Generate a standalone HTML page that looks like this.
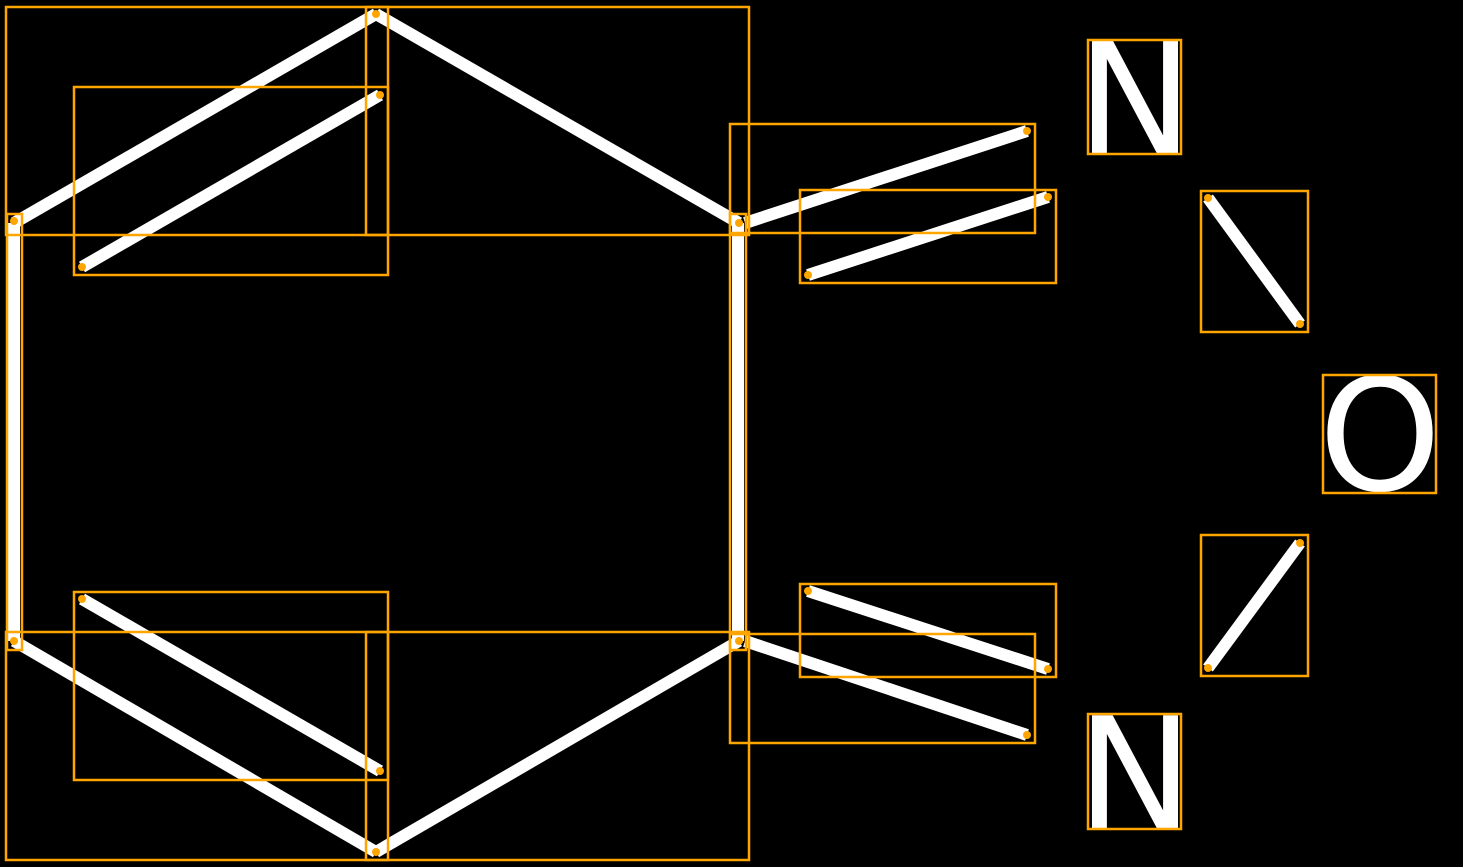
<!DOCTYPE html>
<html><head><style>html,body{margin:0;padding:0;background:#000;width:1463px;height:867px;overflow:hidden}</style></head>
<body>
<svg width="1463" height="867" xmlns="http://www.w3.org/2000/svg">
<rect width="1463" height="867" fill="#000"/>
<g stroke="#fff" stroke-width="12" stroke-linecap="butt">
<line x1="14" y1="223" x2="376" y2="14"/>
<line x1="376" y1="14" x2="739" y2="223"/>
<line x1="14" y1="223" x2="14" y2="641"/>
<line x1="738" y1="223" x2="738" y2="641"/>
<line x1="14" y1="641" x2="376" y2="852"/>
<line x1="376" y1="852" x2="739" y2="641"/>
<line x1="82" y1="267" x2="380" y2="95"/>
<line x1="82" y1="599" x2="380" y2="771"/>
<line x1="745" y1="223" x2="1027" y2="131"/>
<line x1="808" y1="275" x2="1048" y2="197"/>
<line x1="808" y1="591" x2="1048" y2="669"/>
<line x1="745" y1="641" x2="1027" y2="735"/>
<line x1="1208" y1="198" x2="1300" y2="324"/>
<line x1="1208" y1="668" x2="1300" y2="543"/>
</g>
<g fill="#fff" font-family="DejaVu Sans, sans-serif" font-size="156">
<text x="1135" y="154" text-anchor="middle">N</text>
<text x="1380" y="490" text-anchor="middle">O</text>
<text x="1135" y="829" text-anchor="middle">N</text>
</g>
<g fill="none" stroke="#FFA500" stroke-width="2.5">
<rect x="6" y="7" width="382" height="228"/>
<rect x="366" y="7" width="383" height="228"/>
<rect x="74" y="87" width="314" height="188"/>
<rect x="7" y="214" width="15" height="436"/>
<rect x="730" y="214" width="16" height="436"/>
<rect x="6" y="632" width="382" height="228"/>
<rect x="366" y="632" width="383" height="228"/>
<rect x="74" y="592" width="314" height="188"/>
<rect x="730" y="124" width="305" height="109"/>
<rect x="800" y="190" width="256" height="93"/>
<rect x="800" y="584" width="256" height="93"/>
<rect x="730" y="634" width="305" height="109"/>
<rect x="1201" y="191" width="107" height="141"/>
<rect x="1201" y="535" width="107" height="141"/>
<rect x="1088" y="40" width="93" height="114"/>
<rect x="1323" y="375" width="113" height="118"/>
<rect x="1088" y="714" width="93" height="115"/>
</g>
<g fill="#FFA500">
<circle cx="14" cy="221" r="4"/><circle cx="376" cy="14" r="4"/><circle cx="739" cy="223" r="4"/>
<circle cx="14" cy="641" r="4"/><circle cx="376" cy="852" r="4"/><circle cx="739" cy="641" r="4"/>
<circle cx="82" cy="267" r="4"/><circle cx="380" cy="95" r="4"/>
<circle cx="82" cy="599" r="4"/><circle cx="380" cy="771" r="4"/>
<circle cx="1027" cy="131" r="4"/><circle cx="808" cy="275" r="4"/><circle cx="1048" cy="197" r="4"/>
<circle cx="808" cy="591" r="4"/><circle cx="1048" cy="669" r="4"/><circle cx="1027" cy="735" r="4"/>
<circle cx="1208" cy="198" r="4"/><circle cx="1300" cy="324" r="4"/>
<circle cx="1208" cy="668" r="4"/><circle cx="1300" cy="543" r="4"/>
</g>
</svg>
</body></html>
